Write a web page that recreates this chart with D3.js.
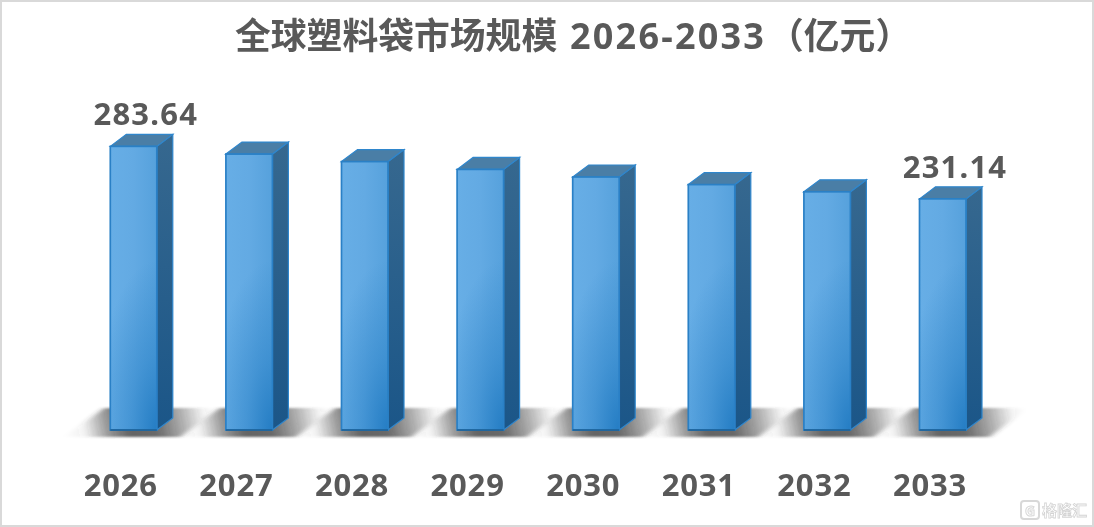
<!DOCTYPE html>
<html><head><meta charset="utf-8">
<script src="https://cdn.jsdelivr.net/npm/d3@7/dist/d3.min.js"></script>
<style>html,body{margin:0;padding:0;background:#fff}svg{display:block}
text{font-family:"Noto Sans","Noto Sans CJK SC",sans-serif;font-weight:700;fill:#595959}</style>
</head><body><svg id="c" width="1094" height="527"></svg>
<script>
const titleParts = ["全球塑料袋市场规模","2026-2033","（亿元）"];
const years = ["2026","2027","2028","2029","2030","2031","2032","2033"];
const values = [283.64,275.9,268.4,260.6,253.0,245.4,238.2,231.14];
const labelled = ["2026","2033"];
const valueLabels = ["283.64","231.14"];

const W=1094,H=527,baseY=430,barW=46.5,dx=16,dy=12;
const svg=d3.select("#c");
const defs=svg.append("defs");
const x=d3.scaleBand().domain(years).range([63.5,988.3]);
const y=d3.scaleLinear().domain([0,100]).range([baseY,baseY-100]);
const left=d=>x(d)+x.bandwidth()/2-11;

svg.append("rect").attr("x",1).attr("y",1).attr("width",W-2).attr("height",H-2)
  .attr("fill","#fff").attr("stroke","#d9d9d9").attr("stroke-width",2);

const blur=defs.append("filter").attr("id","blur").attr("x","-20%").attr("y","-30%").attr("width","140%").attr("height","160%");
blur.append("feGaussianBlur").attr("stdDeviation","3 1");

// floor shadows
const gs=svg.append("g").attr("filter","url(#blur)").style("mix-blend-mode","multiply");
years.forEach((d,i)=>{
  const l=left(d);
  const id="sh"+i;
  const g=defs.append("linearGradient").attr("id",id).attr("gradientUnits","userSpaceOnUse")
    .attr("x1",l-46).attr("y1",438).attr("x2",l+104).attr("y2",408);
  [[0,0],[0.14,0.06],[0.3,0.55],[0.42,0.78],[0.6,0.76],[0.78,0.4],[0.92,0.06],[1,0]].forEach(s=>
    g.append("stop").attr("offset",s[0]).attr("stop-color","#3a3a3a").attr("stop-opacity",s[1]));
  gs.append("polygon").datum(d)
    .attr("points",[[l-46,437],[l+70,437],[l+108,408],[l-6,408]].map(p=>p.join(",")).join(" "))
    .attr("fill",`url(#${id})`);
});

// bars
const bars=svg.append("g");
const addGrad=(id,type,attrs,stops)=>{
  const g=defs.append(type).attr("id",id);
  Object.entries(attrs).forEach(([k,v])=>g.attr(k,v));
  stops.forEach(s=>g.append("stop").attr("offset",s[0]).attr("stop-color",s[1]).attr("stop-opacity",s[2]===undefined?1:s[2]));
};
years.forEach((d,i)=>{
  const l=left(d),t=y(values[i]),h=baseY-t;
  addGrad("front"+i,"linearGradient",{gradientUnits:"userSpaceOnUse",x1:l,y1:0,x2:l+barW,y2:0},
    [[0,"#67aee6"],[0.5,"#63aae3"],[1,"#56a1dc"]]);
  addGrad("glow"+i,"radialGradient",{gradientUnits:"userSpaceOnUse",cx:l+barW,cy:baseY,r:170,
    gradientTransform:`translate(${l+barW} ${baseY}) scale(0.36 1) translate(${-(l+barW)} ${-baseY})`},
    [[0,"#1f79c1",0.9],[0.45,"#2a82c8",0.5],[1,"#2a82c8",0]]);
  addGrad("side"+i,"linearGradient",{x1:0,y1:0,x2:0,y2:1},[[0,"#36688f"],[1,"#1b5688"]]);
  bars.append("polygon").attr("points",[[l+barW,t],[l+barW+dx,t-dy],[l+barW+dx,baseY-dy],[l+barW,baseY]].map(p=>p.join(",")).join(" "))
    .attr("fill",`url(#side${i})`).attr("stroke","#2f86cc").attr("stroke-width",1.2);
  bars.append("polygon").attr("points",[[l,t],[l+dx,t-dy],[l+barW+dx,t-dy],[l+barW,t]].map(p=>p.join(",")).join(" "))
    .attr("fill","#4a7ea6").attr("stroke","#2f86cc").attr("stroke-width",1.2);
  bars.append("rect").attr("x",l).attr("y",t).attr("width",barW).attr("height",h)
    .attr("fill",`url(#front${i})`);
  bars.append("rect").attr("x",l).attr("y",t).attr("width",barW).attr("height",h)
    .attr("fill",`url(#glow${i})`).attr("stroke","#2a80c6").attr("stroke-width",1.7);
  bars.append("line").attr("x1",l).attr("x2",l+barW).attr("y1",baseY).attr("y2",baseY).attr("stroke","#1c5f94").attr("stroke-width",1.5);
});

// axis labels
const ax=svg.append("g").attr("transform","translate(-0.5,485)")
  .call(d3.axisBottom(x).tickSize(0).tickPadding(0));
ax.select(".domain").remove();
ax.selectAll("text").attr("y",0).attr("dy","0.36em").style("font-size","31px").style("font-family",'"Noto Sans",sans-serif').style("letter-spacing","0.8px").attr("fill","#595959");

// value labels
labelled.forEach((d,i)=>{
  const k=years.indexOf(d);
  svg.append("text").attr("x",left(d)+35.5).attr("y",y(values[k])-21)
    .attr("text-anchor","middle").style("font-size","31px").style("letter-spacing","1.2px").text(valueLabels[i]);
});

const title=svg.append("text").attr("x",235).attr("y",49);
title.append("tspan").style("font-size","35.8px").style("font-family",'"Noto Sans CJK SC",sans-serif').text(titleParts[0]);
title.append("tspan").attr("x",570).style("font-size","36px").style("font-family",'"Noto Sans",sans-serif').style("letter-spacing","2.2px").text(titleParts[1]);
title.append("tspan").attr("x",768).style("font-size","35.8px").style("font-family",'"Noto Sans CJK SC",sans-serif').text(titleParts[2]);

// watermark
svg.append("rect").attr("x",1021).attr("y",501).attr("width",18).attr("height",18).attr("rx",3).attr("fill","#fff").attr("stroke","#d8d8d8").attr("stroke-width",2);
svg.append("text").attr("x",1030).attr("y",516).attr("text-anchor","middle").style("font-size","14px").style("fill","#fff").style("stroke","#d8d8d8").style("stroke-width",1).text("G");
svg.append("text").attr("x",1042).attr("y",516).style("font-size","15px").style("font-family",'"Noto Sans CJK SC",sans-serif').style("fill","#fff").style("stroke","#d4d4d4").style("stroke-width",0.8).text("格隆汇");
</script></body></html>
